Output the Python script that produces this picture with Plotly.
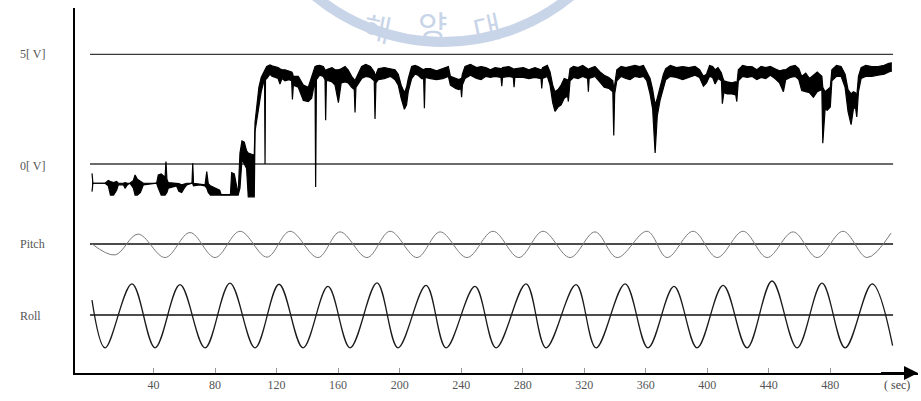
import numpy as np
import plotly.graph_objects as go

# ---------------- data ----------------
# Sensor output voltage trace: time [s], upper and lower edge of the drawn band [V]
SIG_T = [
    0.0, 0.6, 8.5, 10.6, 12.0, 14.0, 16.0, 17.1, 20.4, 21.5,
    23.0, 24.7, 26.9, 28.0, 29.5, 31.5, 33.4, 42.0, 43.1, 45.0,
    47.5, 48.1, 48.7, 49.6, 55.0, 56.5, 58.3, 60.0, 61.6, 65.0,
    65.5, 66.0, 70.0, 73.5, 74.6, 75.6, 77.0, 80.0, 83.0, 84.0,
    90.0, 90.8, 92.5, 94.0, 95.0, 96.2, 97.5, 99.0, 100.5, 101.6,
    105.5, 106.0, 107.1, 108.5, 110.0, 111.5, 112.2, 112.5, 112.8, 113.6,
    115.7, 117.0, 119.0, 121.0, 122.2, 123.5, 125.5, 128.0, 129.8, 130.3,
    130.9, 134.1, 137.4, 140.6, 142.8, 144.5, 145.0, 145.4, 145.9, 148.0,
    150.4, 151.5, 151.9, 152.4, 153.7, 156.0, 158.0, 160.2, 162.0, 164.5,
    166.5, 168.8, 170.5, 171.0, 171.6, 175.3, 178.0, 181.0, 183.5, 184.0,
    184.6, 186.1, 190.0, 194.0, 197.0, 199.1, 201.0, 203.1, 204.5, 205.6,
    207.8, 210.0, 212.0, 214.3, 215.6, 216.1, 216.6, 220.0, 224.0, 228.0,
    231.7, 233.0, 236.4, 238.5, 239.8, 240.3, 240.8, 242.5, 246.0, 250.0,
    253.0, 256.0, 259.0, 262.0, 265.9, 266.4, 266.9, 271.0, 273.9, 274.4,
    274.9, 280.4, 284.0, 288.0, 291.9, 292.4, 292.9, 296.0, 297.8, 299.5,
    301.0, 303.0, 305.0, 307.0, 309.2, 309.7, 310.8, 313.0, 316.0, 319.0,
    322.2, 322.7, 323.2, 327.0, 330.3, 333.0, 336.0, 338.6, 339.2, 339.8,
    341.2, 344.0, 347.0, 349.8, 353.0, 356.0, 358.5, 360.7, 362.8, 364.5,
    366.1, 367.5, 369.3, 371.5, 373.0, 376.0, 380.0, 384.0, 388.0, 392.0,
    395.0, 397.5, 399.5, 401.5, 403.5, 405.1, 407.0, 409.2, 409.8, 410.8,
    413.0, 416.0, 418.5, 419.2, 420.2, 423.0, 426.0, 429.0, 432.2, 435.0,
    438.0, 441.0, 444.0, 447.0, 449.5, 451.0, 454.0, 457.1, 459.5, 461.4,
    464.0, 466.5, 469.0, 471.5, 474.5, 475.1, 476.6, 478.0, 480.0, 481.0,
    484.0, 487.0, 489.6, 491.5, 493.5, 495.0, 496.3, 497.2, 498.3, 500.0,
    503.0, 507.0, 511.0, 515.0, 518.0, 520.0,
]
SIG_HI = [
    -0.43, -0.88, -0.88, -0.75, -0.80, -0.85, -0.80, -0.88, -0.88, -0.85,
    -0.88, -0.88, -0.75, -0.50, -0.70, -0.80, -0.88, -0.88, -0.50, -0.45,
    -0.60, 0.11, -0.70, -0.85, -0.88, -0.90, -0.95, -0.90, -0.88, -0.88,
    0.03, -0.88, -0.90, -0.95, -0.35, -0.90, -1.00, -1.10, -1.20, -1.40,
    -1.40, -0.40, -0.45, -1.00, -1.40, 0.50, 1.05, 1.00, 0.60, 0.50,
    0.40, 1.90, 2.70, 3.50, 3.95, 4.20, 4.25, 4.30, 4.35, 4.45,
    4.52, 4.48, 4.45, 4.40, 4.35, 4.30, 4.30, 4.25, 4.20, 4.15,
    4.00, 4.00, 3.60, 3.50, 4.00, 4.40, 4.45, 4.45, 4.48, 4.50,
    4.45, 4.30, 4.20, 4.30, 4.35, 4.40, 4.30, 4.30, 4.35, 4.45,
    4.30, 4.00, 3.85, 3.80, 3.90, 4.45, 4.55, 4.45, 4.20, 4.00,
    4.10, 4.35, 4.40, 4.35, 4.30, 4.10, 3.60, 3.25, 3.50, 3.90,
    4.45, 4.50, 4.45, 4.35, 4.30, 4.30, 4.35, 4.35, 4.25, 4.35,
    4.45, 4.00, 3.90, 3.85, 3.90, 3.90, 4.10, 4.45, 4.55, 4.40,
    4.45, 4.40, 4.30, 4.40, 4.35, 4.35, 4.40, 4.45, 4.35, 4.30,
    4.35, 4.40, 4.30, 4.40, 4.30, 4.30, 4.40, 4.50, 4.20, 3.60,
    3.30, 3.40, 3.60, 3.90, 3.85, 3.80, 4.35, 4.45, 4.40, 4.50,
    4.35, 4.30, 4.35, 4.45, 4.20, 4.05, 3.95, 3.80, 3.40, 3.60,
    4.30, 4.45, 4.40, 4.45, 4.50, 4.45, 4.50, 4.20, 3.90, 3.40,
    2.70, 3.00, 3.50, 4.10, 4.35, 4.50, 4.40, 4.45, 4.40, 4.45,
    4.30, 4.00, 4.10, 4.50, 4.45, 4.30, 4.40, 4.15, 4.00, 3.80,
    3.75, 3.70, 3.75, 3.60, 4.30, 4.50, 4.45, 4.45, 4.30, 4.45,
    4.40, 4.45, 4.35, 4.25, 4.30, 4.30, 4.45, 4.50, 4.35, 4.00,
    4.15, 3.90, 4.05, 4.20, 4.00, 3.50, 3.30, 3.40, 3.50, 4.30,
    4.50, 4.45, 4.10, 3.40, 3.20, 3.30, 3.25, 3.10, 4.00, 4.40,
    4.50, 4.45, 4.45, 4.50, 4.60, 4.62,
]
SIG_LO = [
    -1.26, -0.88, -0.88, -1.00, -1.42, -1.42, -1.20, -0.95, -0.95, -1.10,
    -0.95, -0.88, -1.10, -1.42, -1.42, -1.30, -0.95, -0.88, -1.10, -1.42,
    -1.42, -1.35, -1.30, -1.10, -1.00, -1.25, -1.30, -1.10, -0.95, -0.88,
    -0.90, -1.00, -0.95, -1.00, -1.10, -1.30, -1.42, -1.42, -1.42, -1.42,
    -1.42, -1.42, -1.42, -1.42, -1.42, -1.10, 0.20, 0.00, -0.20, -1.50,
    -1.50, 1.50, 2.00, 2.60, 3.30, 3.70, 3.80, 0.00, 3.85, 3.90,
    4.10, 4.00, 3.95, 3.90, 3.65, 3.90, 3.80, 3.85, 3.80, 2.95,
    3.60, 3.50, 2.90, 2.85, 3.00, 3.60, 3.80, -1.05, 3.85, 4.05,
    4.00, 3.85, 2.00, 3.80, 3.80, 3.75, 3.60, 2.80, 3.70, 3.75,
    3.70, 3.50, 3.40, 2.35, 3.50, 3.90, 4.00, 3.95, 3.80, 2.05,
    3.70, 3.85, 3.90, 4.00, 3.85, 3.60, 3.00, 2.50, 2.70, 3.30,
    3.90, 4.10, 4.05, 3.90, 3.90, 2.55, 3.95, 3.90, 3.85, 3.90,
    4.00, 3.60, 3.45, 3.40, 3.45, 3.05, 3.60, 3.90, 4.05, 3.90,
    3.85, 4.00, 3.95, 4.00, 3.95, 3.55, 3.95, 4.00, 3.95, 3.50,
    3.95, 3.95, 3.90, 3.95, 3.90, 3.45, 3.90, 4.00, 3.60, 2.80,
    2.40, 2.60, 2.70, 3.00, 3.10, 2.85, 3.80, 3.95, 3.90, 4.00,
    3.90, 3.30, 3.90, 4.00, 3.70, 3.50, 3.45, 3.30, 1.30, 3.20,
    3.80, 4.00, 3.90, 3.85, 4.00, 3.95, 4.00, 3.80, 3.20, 2.50,
    0.50, 2.20, 2.90, 3.50, 3.85, 4.00, 3.95, 3.85, 3.95, 4.05,
    3.95, 3.55, 3.70, 4.00, 3.95, 3.65, 3.90, 3.80, 2.75, 3.25,
    3.20, 3.20, 3.15, 2.85, 3.80, 4.00, 3.95, 4.00, 3.85, 3.95,
    3.90, 4.05, 3.90, 3.70, 3.30, 3.85, 3.95, 4.00, 3.85, 3.35,
    3.30, 3.25, 3.05, 3.30, 3.40, 0.95, 2.50, 2.45, 2.60, 3.80,
    4.00, 4.00, 3.50, 2.40, 1.80, 2.50, 2.60, 2.15, 3.30, 3.90,
    4.00, 4.00, 4.05, 4.10, 4.20, 4.25,
]
assert len(SIG_T) == len(SIG_HI) == len(SIG_LO)

# Pitch motion (relative, peaks and troughs)
PITCH_T = [0.0, 15.0, 29.9, 47.5, 63.7, 80.0, 96.2, 113.8, 128.7, 146.9,
           161.2, 178.8, 193.8, 211.3, 226.3, 243.8, 260.7, 277.5, 293.2, 310.8,
           327.0, 341.4, 360.9, 373.9, 390.8, 406.4, 423.3, 438.9, 455.8, 471.4,
           488.3, 503.9, 519.5]
PITCH_V = [0.0, -0.50, 0.45, -0.62, 0.52, -0.62, 0.58, -0.60, 0.58, -0.62,
           0.55, -0.62, 0.58, -0.62, 0.55, -0.62, 0.58, -0.62, 0.58, -0.62,
           0.55, -0.62, 0.58, -0.62, 0.58, -0.62, 0.58, -0.62, 0.55, -0.62,
           0.58, -0.62, 0.50]

# Roll motion (relative): start, then alternating troughs and peaks
ROLL_T = [0.0, 8.5, 26.0, 41.0, 57.2, 73.5, 89.7, 106.0, 121.6, 137.2,
          153.4, 167.8, 185.3, 198.9, 217.2, 230.2, 249.0, 262.7, 282.2, 295.2,
          314.7, 327.7, 346.6, 361.5, 378.4, 393.4, 410.3, 425.9, 442.1, 458.4,
          474.6, 489.6, 507.2, 520.5]
ROLL_V = [0.68, -1.50, 1.42, -1.50, 1.38, -1.50, 1.45, -1.50, 1.40, -1.50,
          1.30, -1.50, 1.46, -1.50, 1.35, -1.50, 1.30, -1.50, 1.42, -1.50,
          1.38, -1.50, 1.42, -1.50, 1.30, -1.50, 1.35, -1.50, 1.55, -1.50,
          1.45, -1.50, 1.42, -1.40]

X_TICKS = [40, 80, 120, 160, 200, 240, 280, 320, 360, 400, 440, 480]
ROW_LABELS = ["5[ V]", "0[ V]", "Pitch", "Roll"]
WATERMARK = ["해", "양", "대"]

# ---------------- layout constants ----------------
PITCH_BASE = -3.65
ROLL_BASE = -6.89
ROW_Y = [5.0, -0.1, PITCH_BASE, ROLL_BASE - 0.05]
REF_LEVELS = [5.0, 0.0, PITCH_BASE, ROLL_BASE]
LINE_T0, LINE_T1 = -1.3, 520.8
X_RANGE = [-11.05, 537.0]
Y_RANGE = [-9.54, 7.12]
SERIF = "Liberation Serif, Times New Roman, serif"

fig = go.Figure()

# reference lines
for lv, col, w in zip(REF_LEVELS, ["#3a3a3a", "#3a3a3a", "#111", "#111"], [1.3, 1.3, 1.6, 1.6]):
    fig.add_shape(type="line", xref="x", yref="y", x0=LINE_T0, x1=LINE_T1, y0=lv, y1=lv,
                  line=dict(color=col, width=w), layer="below")

# voltage band
fig.add_trace(go.Scatter(x=SIG_T, y=SIG_LO, mode="lines",
                         line=dict(color="#000", width=1.2), hoverinfo="skip", showlegend=False))
fig.add_trace(go.Scatter(x=SIG_T, y=SIG_HI, mode="lines", fill="tonexty", fillcolor="#000",
                         line=dict(color="#000", width=1.2), hoverinfo="skip", showlegend=False))

# pitch
fig.add_trace(go.Scatter(x=PITCH_T, y=np.array(PITCH_V) + PITCH_BASE, mode="lines",
                         line=dict(color="#7a7a7a", width=1, shape="spline", smoothing=1.0),
                         hoverinfo="skip", showlegend=False))
# roll
fig.add_trace(go.Scatter(x=ROLL_T, y=np.array(ROLL_V) + ROLL_BASE, mode="lines",
                         line=dict(color="#1a1a1a", width=1.3, shape="spline", smoothing=1.0),
                         hoverinfo="skip", showlegend=False))

annotations = []
for txt, yv in zip(ROW_LABELS, ROW_Y):
    annotations.append(dict(text=txt, xref="paper", yref="y", x=-0.0676, y=yv,
                            xanchor="left", yanchor="middle", showarrow=False,
                            font=dict(family=SERIF, size=12, color="#555")))
annotations.append(dict(text="( sec)", xref="paper", yref="paper", x=0.975, y=-0.033,
                        xanchor="center", yanchor="middle", showarrow=False,
                        font=dict(family=SERIF, size=12, color="#444")))
# x-axis arrow head
annotations.append(dict(x=X_RANGE[1], y=Y_RANGE[0], xref="x", yref="y",
                        ax=X_RANGE[1] - 25, ay=Y_RANGE[0], axref="x", ayref="y",
                        showarrow=True, arrowhead=2, arrowsize=1.4, arrowwidth=2,
                        arrowcolor="#000", text=""))
# watermark letters (kept fully inside the page)
for ch, px, py, ang, sz in zip(WATERMARK, [0.3594, 0.4235, 0.4887], [0.948, 0.953, 0.950],
                               [12, 0, -12], [30, 32, 30]):
    annotations.append(dict(text=ch, xref="paper", yref="paper", x=px, y=py, textangle=ang,
                            showarrow=False, xanchor="center", yanchor="middle",
                            font=dict(family="Noto Sans CJK KR", size=sz, color="#c8d4e8")))

fig.add_shape(type="circle", xref="paper", yref="paper", x0=0.1981, x1=0.675, y0=0.9068, y1=2.008,
              line=dict(color="#c8d4e8", width=10), layer="below")

fig.update_layout(
    width=921, height=401,
    margin=dict(l=75, r=3, t=8, b=28),
    paper_bgcolor="white", plot_bgcolor="white",
    annotations=annotations,
    xaxis=dict(range=X_RANGE, showgrid=False, zeroline=False, showline=True,
               linecolor="#000", linewidth=2, tickvals=X_TICKS, ticktext=[str(v) for v in X_TICKS],
               ticks="inside", ticklen=5, tickcolor="#999", tickwidth=1,
               tickfont=dict(family=SERIF, size=12, color="#555")),
    yaxis=dict(range=Y_RANGE, showgrid=False, zeroline=False, showline=True,
               linecolor="#000", linewidth=2, showticklabels=False, ticks=""),
)

fig.write_html("out.html", config={"displayModeBar": False},
               post_script="document.body.style.margin='0';document.body.style.overflow='hidden';")
